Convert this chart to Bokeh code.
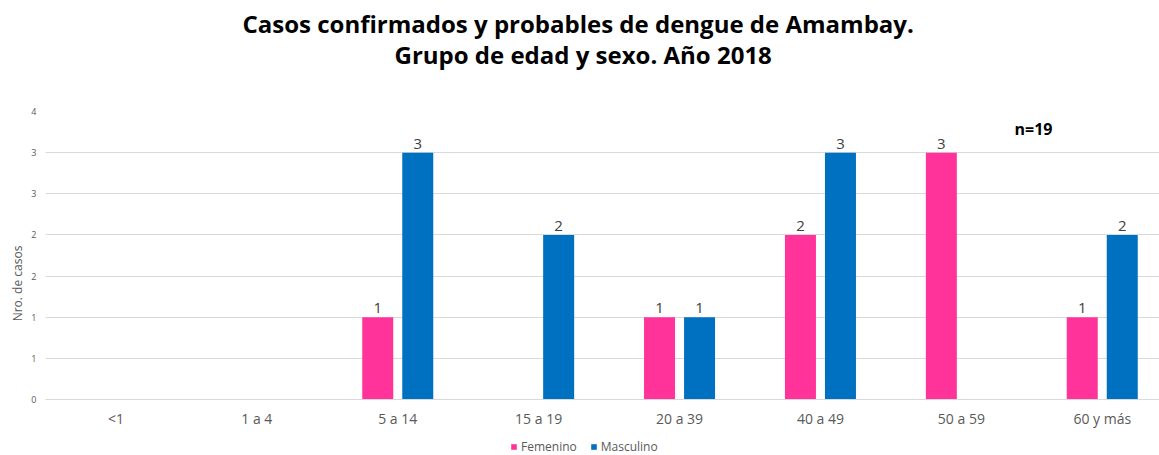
from bokeh.plotting import figure
from bokeh.models import (ColumnDataSource, Range1d, FixedTicker, Label, Legend, LegendItem, Title)
from bokeh.core.properties import value
from bokeh.transform import dodge
from bokeh.embed import file_html
from bokeh.resources import INLINE

# ---- data ----
categories = ["<1", "1 a 4", "5 a 14", "15 a 19", "20 a 39", "40 a 49", "50 a 59", "60 y más"]
femenino = [0, 0, 1, 0, 1, 2, 3, 1]
masculino = [0, 0, 3, 2, 1, 3, 0, 2]
y_ticks = [0, 0.5, 1, 1.5, 2, 2.5, 3, 3.5]
y_tick_labels = ["0", "1", "1", "2", "2", "3", "3", "4"]
title_lines = ["Casos confirmados y probables de dengue de Amambay.",
               "Grupo de edad y sexo. Año 2018"]
n_text = "n=19"

PINK = "#FF3399"
BLUE = "#0070C0"
FONT = "Open Sans"
GREY = "#595959"

n = len(categories)
centers = [i + 0.5 for i in range(n)]
src = ColumnDataSource(dict(x=centers, f=femenino, m=masculino))

# layout geometry (pixels)
cat_px = 140.9
frame_w = 1114
plot_h = 288          # height of the 0..3.5 value area
below_h = 56          # room under the zero line for labels and legend
frame_h = plot_h + below_h
px_per_unit = plot_h / (y_ticks[-1] - y_ticks[0])

p = figure(width=1159, height=455, frame_width=frame_w, frame_height=frame_h,
           x_range=Range1d(0, frame_w / cat_px),
           y_range=Range1d(y_ticks[0] - below_h / px_per_unit, y_ticks[-1]),
           output_backend="svg", toolbar_location=None,
           min_border_left=45, min_border_right=0, min_border_top=111, min_border_bottom=0)
p.outline_line_color = None
p.background_fill_color = "white"
p.border_fill_color = "white"

off = 0.142
bw = 0.22
rf = p.vbar(x=dodge("x", -off), top="f", width=bw, source=src, fill_color=PINK, line_color=None)
rm = p.vbar(x=dodge("x", off), top="m", width=bw, source=src, fill_color=BLUE, line_color=None)

# value labels (non-zero only)
for vals, o in ((femenino, -off), (masculino, off)):
    xs = [c + o for c, v in zip(centers, vals) if v]
    ys = [v for v in vals if v]
    ls = [str(v) for v in vals if v]
    p.text(x=xs, y=ys, text=ls, text_align="center", text_baseline="bottom",
           y_offset=-4, text_font_size="15px", text_color="#404040", text_font=value(FONT))

# x axis drawn at the zero line
xa = p.xaxis[0]
xa.fixed_location = 0
xa.ticker = FixedTicker(ticks=centers)
xa.major_label_overrides = {c: lab for c, lab in zip(centers, categories)}
xa.major_tick_line_color = None
xa.minor_tick_line_color = None
xa.major_tick_out = 0
xa.minor_tick_out = 0
xa.major_tick_in = 0
xa.axis_line_color = "#D9D9D9"
xa.major_label_text_font = FONT
xa.major_label_text_font_size = "14px"
xa.major_label_text_color = GREY
xa.major_label_standoff = 9

ya = p.yaxis[0]
ya.ticker = FixedTicker(ticks=y_ticks)
ya.major_label_overrides = {t: lab for t, lab in zip(y_ticks, y_tick_labels)}
ya.major_tick_line_color = None
ya.minor_tick_line_color = None
ya.major_tick_out = 0
ya.minor_tick_out = 0
ya.major_tick_in = 0
ya.axis_line_color = None
ya.major_label_text_font = FONT
ya.major_label_text_font_size = "9px"
ya.major_label_text_color = GREY
ya.major_label_standoff = 9
ya.axis_label = "Nro. de casos"
ya.axis_label_text_font = FONT
ya.axis_label_text_font_size = "12px"
ya.axis_label_text_font_style = "normal"
ya.axis_label_text_color = GREY
ya.axis_label_standoff = 2

p.xgrid.grid_line_color = None
p.ygrid.grid_line_color = "#D9D9D9"
p.ygrid.ticker = FixedTicker(ticks=y_ticks)

# title: spacer nearest the frame, then line 2, then line 1
spacer = Title(text=" ", text_font_size="1px", standoff=38)
t2 = Title(text=title_lines[1], align="left", offset=349, text_font=FONT,
           text_font_size="24px", text_font_style="bold", text_color="black", standoff=0)
t1 = Title(text=title_lines[0], align="left", offset=197, text_font=FONT,
           text_font_size="24px", text_font_style="bold", text_color="black", standoff=-9.4)
p.add_layout(spacer, "above")
p.add_layout(t2, "above")
p.add_layout(t1, "above")

# n=19 (screen units from the frame's bottom-left corner)
p.add_layout(Label(x=988, y=below_h + 271, x_units="screen", y_units="screen", text=n_text,
                   text_align="center", text_baseline="middle", text_font=FONT,
                   text_font_size="16px", text_font_style="bold", text_color="black"))

legend = Legend(items=[LegendItem(label="Femenino", renderers=[rf]),
                       LegendItem(label="Masculino", renderers=[rm])],
                location=(465, 0), orientation="horizontal",
                glyph_width=7, glyph_height=7, label_standoff=4, spacing=13,
                padding=0, margin=0, border_line_color=None, background_fill_alpha=0,
                label_text_font=FONT, label_text_font_size="12px", label_text_color=GREY,
                label_height=12)
p.add_layout(legend)

open("out.html", "w").write(file_html(p, INLINE))
